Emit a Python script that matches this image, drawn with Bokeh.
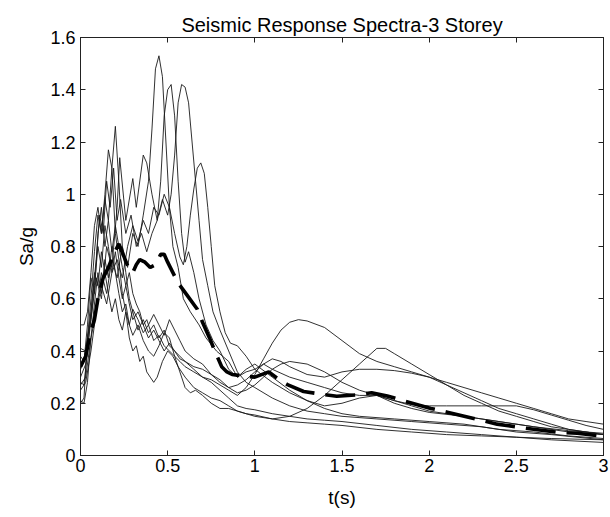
from bokeh.plotting import figure
from bokeh.models import Range1d, FixedTicker, LinearAxis
from bokeh.embed import file_html
from bokeh.resources import INLINE

# ---------------- data ----------------
r1_t = [0, 0.03, 0.06, 0.09, 0.12, 0.15, 0.18, 0.21, 0.24, 0.27, 0.30, 0.33, 0.36, 0.39, 0.41, 0.43, 0.45, 0.47, 0.49, 0.51, 0.53, 0.56, 0.59, 0.63, 0.68, 0.72, 0.78, 0.85, 0.90, 0.95, 1.0, 1.1, 1.2, 1.3, 1.4, 1.5, 1.6, 1.8, 2.0, 2.2, 2.4, 2.6, 2.8, 3.0]
r1_v = [0.27, 0.30, 0.45, 0.55, 0.70, 0.62, 0.75, 0.68, 0.80, 0.72, 0.85, 0.80, 0.92, 1.05, 1.25, 1.48, 1.53, 1.45, 1.20, 0.95, 0.80, 0.72, 0.60, 0.55, 0.50, 0.45, 0.40, 0.36, 0.30, 0.33, 0.35, 0.30, 0.25, 0.21, 0.18, 0.16, 0.15, 0.14, 0.13, 0.12, 0.10, 0.09, 0.075, 0.065]

r2_t = [0, 0.03, 0.06, 0.09, 0.11, 0.13, 0.15, 0.17, 0.19, 0.21, 0.23, 0.26, 0.29, 0.32, 0.35, 0.38, 0.41, 0.44, 0.46, 0.48, 0.50, 0.52, 0.54, 0.56, 0.58, 0.60, 0.62, 0.65, 0.68, 0.72, 0.76, 0.80, 0.85, 0.90, 0.95, 1.0, 1.05, 1.1, 1.2, 1.3, 1.4, 1.5, 1.6, 1.7, 1.8, 1.9, 2.0, 2.2, 2.4, 2.6, 2.8, 3.0]
r2_v = [0.41, 0.40, 0.55, 0.75, 0.92, 0.85, 1.05, 0.95, 1.10, 0.90, 0.98, 0.85, 0.92, 0.80, 0.85, 0.78, 0.85, 0.90, 1.05, 1.30, 1.40, 1.42, 1.30, 1.05, 0.85, 0.74, 0.78, 0.70, 0.60, 0.50, 0.44, 0.40, 0.33, 0.30, 0.32, 0.33, 0.35, 0.33, 0.30, 0.28, 0.26, 0.24, 0.23, 0.23, 0.21, 0.19, 0.17, 0.15, 0.13, 0.11, 0.09, 0.08]

r3_t = [0, 0.03, 0.06, 0.09, 0.12, 0.15, 0.18, 0.21, 0.225, 0.26, 0.30, 0.32, 0.36, 0.38, 0.41, 0.44, 0.47, 0.50, 0.52, 0.54, 0.56, 0.58, 0.60, 0.62, 0.64, 0.66, 0.68, 0.70, 0.73, 0.76, 0.80, 0.85, 0.90, 0.95, 1.0, 1.1, 1.2, 1.3, 1.4, 1.5, 1.7, 1.9, 2.1, 2.3, 2.5, 2.7, 3.0]
r3_v = [0.30, 0.35, 0.52, 0.68, 0.60, 0.80, 0.72, 0.95, 1.14, 0.90, 1.06, 0.95, 1.15, 1.12, 1.00, 0.90, 0.98, 0.92, 1.00, 1.15, 1.35, 1.42, 1.41, 1.35, 1.20, 1.05, 0.90, 0.75, 0.65, 0.55, 0.48, 0.40, 0.32, 0.28, 0.26, 0.22, 0.19, 0.17, 0.16, 0.15, 0.14, 0.13, 0.12, 0.11, 0.09, 0.08, 0.06]

r4_t = [0, 0.03, 0.06, 0.09, 0.12, 0.15, 0.18, 0.21, 0.24, 0.27, 0.30, 0.33, 0.36, 0.39, 0.42, 0.45, 0.48, 0.51, 0.54, 0.57, 0.59, 0.61, 0.63, 0.65, 0.67, 0.69, 0.71, 0.73, 0.75, 0.77, 0.80, 0.83, 0.86, 0.90, 0.95, 1.0, 1.1, 1.2, 1.3, 1.4, 1.5, 1.6, 1.7, 1.8, 1.9, 2.0, 2.2, 2.4, 2.6, 2.8, 3.0]
r4_v = [0.25, 0.28, 0.40, 0.55, 0.65, 0.58, 0.70, 0.75, 0.68, 0.80, 0.88, 0.82, 0.90, 0.85, 0.95, 0.92, 1.00, 0.95, 0.85, 0.76, 0.73, 0.80, 0.92, 1.02, 1.10, 1.12, 1.08, 0.95, 0.80, 0.65, 0.55, 0.47, 0.43, 0.42, 0.38, 0.33, 0.28, 0.24, 0.21, 0.19, 0.20, 0.22, 0.23, 0.20, 0.18, 0.165, 0.15, 0.13, 0.11, 0.095, 0.085]

r5_t = [0, 0.02, 0.04, 0.06, 0.08, 0.10, 0.12, 0.14, 0.16, 0.18, 0.20, 0.22, 0.24, 0.26, 0.28, 0.30, 0.33, 0.36, 0.39, 0.42, 0.45, 0.48, 0.51, 0.54, 0.57, 0.60, 0.65, 0.70, 0.75, 0.80, 0.85, 0.90, 0.95, 1.0, 1.1, 1.2, 1.3, 1.4, 1.5, 1.7, 1.9, 2.1, 2.3, 2.5, 2.7, 3.0]
r5_v = [0.20, 0.22, 0.45, 0.60, 0.78, 0.92, 0.85, 0.98, 0.90, 1.10, 1.26, 1.05, 0.80, 0.70, 0.60, 0.55, 0.48, 0.52, 0.47, 0.50, 0.45, 0.48, 0.42, 0.40, 0.38, 0.36, 0.33, 0.30, 0.28, 0.25, 0.22, 0.19, 0.18, 0.175, 0.16, 0.15, 0.14, 0.135, 0.13, 0.115, 0.10, 0.09, 0.08, 0.07, 0.06, 0.05]

r6_t = [0, 0.02, 0.04, 0.06, 0.08, 0.10, 0.12, 0.14, 0.16, 0.18, 0.20, 0.22, 0.24, 0.26, 0.28, 0.30, 0.32, 0.34, 0.36, 0.38, 0.40, 0.42, 0.44, 0.47, 0.50, 0.53, 0.56, 0.60, 0.65, 0.70, 0.75, 0.80, 0.85, 0.90, 0.95, 1.0, 1.1, 1.2, 1.3, 1.4, 1.5, 1.7, 1.9, 2.1, 2.3, 2.5, 2.7, 3.0]
r6_v = [0.50, 0.50, 0.55, 0.70, 0.88, 0.95, 0.85, 1.00, 1.17, 1.10, 0.85, 0.75, 0.62, 0.55, 0.45, 0.40, 0.42, 0.36, 0.38, 0.32, 0.30, 0.28, 0.30, 0.36, 0.40, 0.38, 0.34, 0.30, 0.26, 0.24, 0.22, 0.21, 0.19, 0.17, 0.16, 0.155, 0.14, 0.13, 0.125, 0.12, 0.115, 0.10, 0.09, 0.08, 0.075, 0.07, 0.065, 0.06]

r7_t = [0, 0.02, 0.04, 0.06, 0.08, 0.10, 0.12, 0.14, 0.16, 0.18, 0.20, 0.22, 0.24, 0.26, 0.28, 0.30, 0.32, 0.34, 0.36, 0.38, 0.40, 0.42, 0.45, 0.48, 0.51, 0.54, 0.57, 0.60, 0.65, 0.70, 0.75, 0.80, 0.85, 0.90, 0.95, 1.0, 1.05, 1.1, 1.15, 1.2, 1.25, 1.3, 1.4, 1.5, 1.6, 1.7, 1.8, 1.9, 2.0, 2.1, 2.2, 2.3, 2.4, 2.5, 2.6, 2.7, 2.8, 2.9, 3.0]
r7_v = [0.33, 0.36, 0.50, 0.68, 0.62, 0.85, 0.95, 0.80, 0.90, 0.78, 0.88, 0.80, 0.72, 0.65, 0.70, 0.62, 0.58, 0.55, 0.50, 0.52, 0.48, 0.44, 0.46, 0.42, 0.40, 0.38, 0.36, 0.34, 0.32, 0.30, 0.29, 0.27, 0.25, 0.23, 0.26, 0.31, 0.37, 0.43, 0.48, 0.51, 0.52, 0.515, 0.49, 0.44, 0.39, 0.36, 0.34, 0.32, 0.30, 0.27, 0.24, 0.21, 0.18, 0.16, 0.14, 0.12, 0.10, 0.09, 0.08]

r8_t = [0, 0.02, 0.04, 0.06, 0.08, 0.10, 0.12, 0.14, 0.16, 0.18, 0.20, 0.22, 0.24, 0.26, 0.28, 0.30, 0.33, 0.36, 0.39, 0.42, 0.45, 0.48, 0.51, 0.54, 0.57, 0.60, 0.63, 0.66, 0.70, 0.75, 0.80, 0.85, 0.90, 0.95, 1.0, 1.1, 1.2, 1.3, 1.4, 1.5, 1.6, 1.7, 1.75, 1.8, 1.9, 2.0, 2.1, 2.2, 2.3, 2.4, 2.5, 2.6, 2.7, 2.8, 2.9, 3.0]
r8_v = [0.21, 0.20, 0.28, 0.45, 0.58, 0.70, 0.62, 0.75, 0.68, 0.80, 0.70, 0.62, 0.55, 0.58, 0.50, 0.46, 0.50, 0.44, 0.40, 0.38, 0.42, 0.47, 0.45, 0.38, 0.32, 0.26, 0.24, 0.25, 0.23, 0.20, 0.18, 0.18, 0.17, 0.16, 0.15, 0.14, 0.15, 0.18, 0.23, 0.29, 0.35, 0.41, 0.41, 0.39, 0.35, 0.31, 0.27, 0.23, 0.20, 0.17, 0.15, 0.13, 0.11, 0.10, 0.09, 0.08]

r9_t = [0, 0.02, 0.04, 0.06, 0.08, 0.10, 0.12, 0.14, 0.16, 0.18, 0.20, 0.22, 0.24, 0.26, 0.28, 0.30, 0.33, 0.36, 0.39, 0.42, 0.45, 0.48, 0.51, 0.54, 0.57, 0.60, 0.65, 0.70, 0.75, 0.80, 0.85, 0.90, 0.95, 1.0, 1.05, 1.1, 1.15, 1.2, 1.3, 1.4, 1.5, 1.6, 1.7, 1.8, 1.9, 2.0, 2.1, 2.2, 2.3, 2.4, 2.5, 2.6, 2.7, 2.8, 2.9, 3.0]
r9_v = [0.28, 0.27, 0.40, 0.55, 0.70, 0.65, 0.78, 0.70, 0.62, 0.55, 0.60, 0.52, 0.48, 0.55, 0.50, 0.56, 0.52, 0.47, 0.50, 0.54, 0.50, 0.46, 0.52, 0.48, 0.44, 0.40, 0.37, 0.35, 0.31, 0.28, 0.26, 0.27, 0.29, 0.32, 0.35, 0.37, 0.36, 0.34, 0.31, 0.30, 0.32, 0.33, 0.33, 0.325, 0.315, 0.30, 0.28, 0.26, 0.24, 0.22, 0.20, 0.18, 0.16, 0.14, 0.13, 0.12]

r10_t = [0, 0.02, 0.04, 0.06, 0.08, 0.10, 0.12, 0.14, 0.16, 0.18, 0.20, 0.22, 0.24, 0.26, 0.28, 0.30, 0.33, 0.36, 0.39, 0.42, 0.45, 0.48, 0.51, 0.54, 0.57, 0.60, 0.65, 0.70, 0.75, 0.80, 0.85, 0.90, 0.95, 1.0, 1.05, 1.1, 1.15, 1.2, 1.3, 1.4, 1.5, 1.6, 1.7, 1.8, 1.9, 2.0, 2.1, 2.2, 2.3, 2.4, 2.5, 2.6, 2.7, 2.8, 2.9, 3.0]
r10_v = [0.38, 0.36, 0.45, 0.52, 0.65, 0.80, 0.72, 0.88, 0.80, 0.70, 0.78, 0.68, 0.60, 0.65, 0.58, 0.52, 0.55, 0.50, 0.45, 0.48, 0.44, 0.40, 0.43, 0.40, 0.37, 0.36, 0.34, 0.33, 0.31, 0.29, 0.26, 0.24, 0.25, 0.27, 0.30, 0.33, 0.35, 0.36, 0.35, 0.32, 0.28, 0.25, 0.23, 0.21, 0.195, 0.19, 0.19, 0.19, 0.19, 0.19, 0.19, 0.175, 0.155, 0.135, 0.115, 0.10]

mean_t = [0, 0.03, 0.057, 0.08, 0.10, 0.13, 0.16, 0.19, 0.22, 0.25, 0.28, 0.30, 0.32, 0.34, 0.37, 0.40, 0.43, 0.46, 0.48, 0.50, 0.53, 0.56, 0.61, 0.67, 0.70, 0.74, 0.78, 0.81, 0.84, 0.87, 0.93, 1.0, 1.08, 1.14, 1.19, 1.28, 1.38, 1.47, 1.58, 1.67, 1.76, 1.85, 2.01, 2.11, 2.30, 2.39, 2.55, 2.75, 2.85, 3.0]
mean_v = [0.34, 0.38, 0.47, 0.52, 0.60, 0.68, 0.72, 0.77, 0.81, 0.76, 0.71, 0.70, 0.73, 0.75, 0.74, 0.72, 0.73, 0.77, 0.77, 0.74, 0.70, 0.66, 0.615, 0.56, 0.51, 0.45, 0.385, 0.34, 0.32, 0.31, 0.305, 0.30, 0.32, 0.29, 0.27, 0.245, 0.235, 0.227, 0.232, 0.24, 0.228, 0.21, 0.18, 0.165, 0.135, 0.12, 0.105, 0.088, 0.085, 0.073]

records = [(r1_t, r1_v), (r2_t, r2_v), (r3_t, r3_v), (r4_t, r4_v), (r5_t, r5_v),
           (r6_t, r6_v), (r7_t, r7_v), (r8_t, r8_v), (r9_t, r9_v), (r10_t, r10_v)]

x_ticks = [0, 0.5, 1, 1.5, 2, 2.5, 3]
x_tick_labels = ["0", "0.5", "1", "1.5", "2", "2.5", "3"]
y_ticks = [0, 0.2, 0.4, 0.6, 0.8, 1.0, 1.2, 1.4, 1.6]
y_tick_labels = ["0", "0.2", "0.4", "0.6", "0.8", "1", "1.2", "1.4", "1.6"]

# ---------------- figure ----------------
FONT = "Liberation Sans"
p = figure(width=610, height=517, output_backend="svg", toolbar_location=None,
           x_range=Range1d(0, 3), y_range=Range1d(0, 1.6),
           min_border_left=80, min_border_right=7, min_border_top=37, min_border_bottom=62,
           title="Seismic Response Spectra-3 Storey")
p.title.align = "center"
p.title.text_font = FONT
p.title.text_font_size = "20px"
p.title.text_font_style = "normal"
p.title.text_color = "black"
p.title.offset = 0
p.title.standoff = 4

p.xgrid.visible = False
p.ygrid.visible = False
p.outline_line_color = "#222222"
p.outline_line_width = 1
p.background_fill_color = "white"
p.border_fill_color = "white"

for t, v in records:
    p.line(t, v, line_color="#1a1a1a", line_width=0.9)

p.line(mean_t, mean_v, line_color="black", line_width=3.6, line_dash="30 11")

def style_axis(ax, labels, ticks, show_labels=True):
    ax.ticker = FixedTicker(ticks=ticks)
    ax.major_tick_in = 5
    ax.major_tick_out = 0
    ax.minor_tick_in = 0
    ax.minor_tick_out = 0
    ax.axis_line_color = "#222222"
    ax.major_tick_line_color = "#222222"
    ax.major_label_text_font = FONT
    ax.major_label_text_font_size = "18px"
    ax.major_label_text_color = "black"
    if show_labels:
        ax.major_label_overrides = {tk: lb for tk, lb in zip(ticks, labels)}
    else:
        ax.major_label_overrides = {tk: "" for tk in ticks}
        ax.major_label_standoff = 0
        ax.major_label_text_font_size = "1px"

style_axis(p.xaxis[0], x_tick_labels, x_ticks)
style_axis(p.yaxis[0], y_tick_labels, y_ticks)
p.xaxis[0].major_label_standoff = 3
p.yaxis[0].major_label_standoff = 5
p.xaxis[0].axis_label = "t(s)"
p.yaxis[0].axis_label = "Sa/g"
for ax in (p.xaxis[0], p.yaxis[0]):
    ax.axis_label_text_font = FONT
    ax.axis_label_text_font_size = "19px"
    ax.axis_label_text_font_style = "normal"
    ax.axis_label_text_color = "black"
p.xaxis[0].axis_label_standoff = 12
p.yaxis[0].axis_label_standoff = 10

right_ax = LinearAxis()
style_axis(right_ax, y_tick_labels, y_ticks, show_labels=False)
p.add_layout(right_ax, "right")
top_ax = LinearAxis()
style_axis(top_ax, x_tick_labels, x_ticks, show_labels=False)
p.add_layout(top_ax, "above")

open("out.html", "w").write(file_html(p, INLINE))
